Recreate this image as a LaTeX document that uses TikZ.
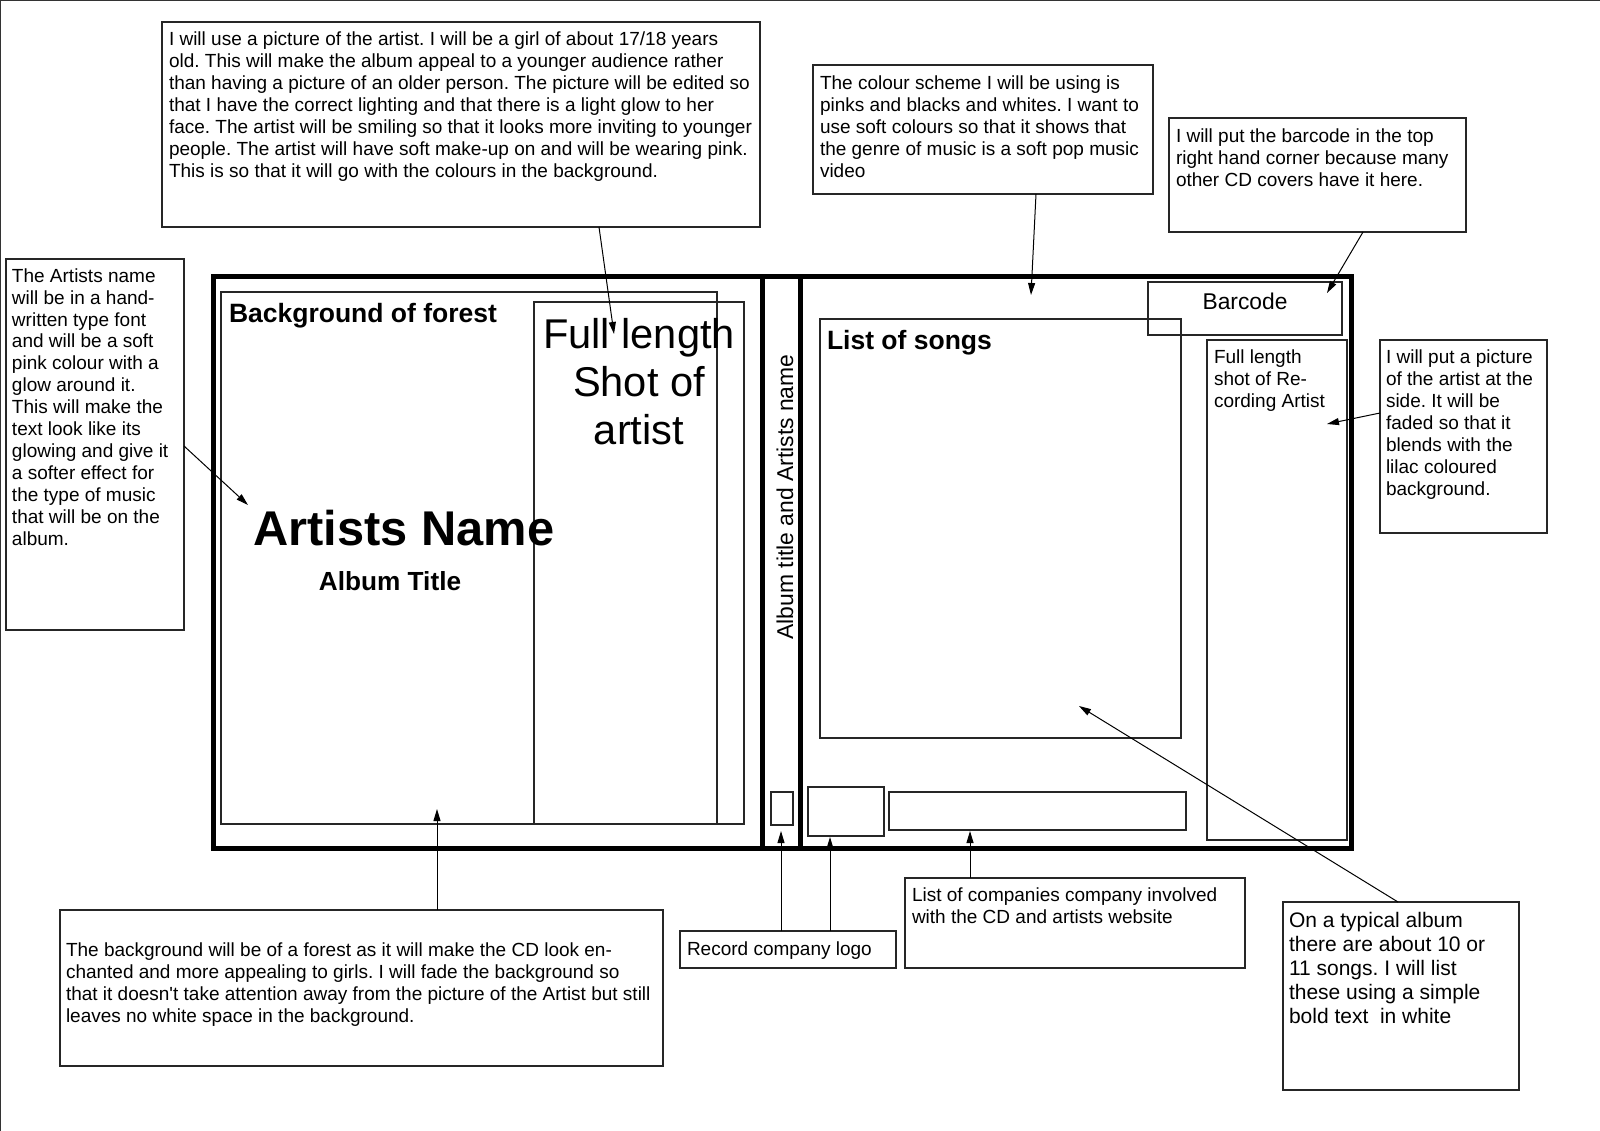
\documentclass[tikz,border=0pt]{standalone}
\usepackage{fontspec}
\setmainfont{Liberation Sans}
\usetikzlibrary{arrows.meta}
\newcommand\myfs[2]{\fontsize{#1}{#2}\selectfont}
\frenchspacing
\begin{document}
\begin{tikzpicture}[x=1pt,y=-1pt,
  notebox/.style={draw=black!85,line width=1.3pt,inner sep=0,outer sep=0,anchor=north west},
  thinrect/.style={draw=black!85,line width=1.5pt},
  thick frame/.style={draw=black,line width=5pt},
  txt/.style={inner sep=0,outer sep=0,anchor=north west,align=left,font={\myfs{19}{21.9}}},
  arr/.style={draw=black,line width=1pt,-{Triangle[length=12pt,width=7pt]}}]
\useasboundingbox (0,0) rectangle (1600,1131);
\fill[white] (0,0) rectangle (1600,1131);
\draw[line width=1.2pt,black!80] (0.6,1131) -- (0.6,0.6) -- (1600,0.6);

% ---- note boxes ----
\node[notebox,minimum width=598pt,minimum height=205pt] (topnote) at (162,22) {};
\node[notebox,minimum width=340pt,minimum height=129pt] (colnote) at (813,65) {};
\node[notebox,minimum width=297pt,minimum height=114pt] (barnote) at (1169,118) {};
\node[notebox,minimum width=178pt,minimum height=371pt] (artnote) at (6,259) {};
\node[notebox,minimum width=167pt,minimum height=193pt] (picnote) at (1380,340) {};
\node[notebox,minimum width=603pt,minimum height=156pt] (bgnote) at (60,910) {};
\node[notebox,minimum width=216pt,minimum height=37pt] (lognote) at (680,931) {};
\node[notebox,minimum width=340pt,minimum height=90pt] (comnote) at (905,878) {};
\node[notebox,minimum width=236pt,minimum height=188pt] (songnote) at (1283,902) {};

% ---- note texts ----
\node[txt] (t-top) at (169,32) {I will use a picture of the artist. I will be a girl of about 17/18 years\\
old. This will make the album appeal to a younger audience rather\\
than having a picture of an older person. The picture will be edited so\\
that I have the correct lighting and that there is a light glow to her\\
face. The artist will be smiling so that it looks more inviting to younger\\
people. The artist will have soft make-up on and will be wearing pink.\\
This is so that it will go with the colours in the background.};
\node[txt] (t-col) at (820,76) {The colour scheme I will be using is\\
pinks and blacks and whites. I want to\\
use soft colours so that it shows that\\
the genre of music is a soft pop music\\
video};
\node[txt] (t-bar) at (1176,129) {I will put the barcode in the top\\
right hand corner because many\\
other CD covers have it here.};
\node[txt] (t-art) at (12,268.5) {The Artists name\\
will be in a hand-\\
written type font\\
and will be a soft\\
pink colour with a\\
glow around it.\\
This will make the\\
text look like its\\
glowing and give it\\
a softer effect for\\
the type of music\\
that will be on the\\
album.};
\node[txt] (t-pic) at (1386,350) {I will put a picture\\
of the artist at the\\
side. It will be\\
faded so that it\\
blends with the\\
lilac coloured\\
background.};
\node[txt] (t-bg) at (66,943) {The background will be of a forest as it will make the CD look en-\\
chanted and more appealing to girls. I will fade the background so\\
that it doesn\textquotesingle t take attention away from the picture of the Artist but still\\
leaves no white space in the background.};
\node[txt] (t-log) at (687,942) {Record company logo};
\node[txt] (t-com) at (912,888) {List of companies company involved\\
with the CD and artists website};
\node[txt,font={\myfs{21}{24}}] (t-song) at (1289,912) {On a typical album\\
there are about 10 or\\
11 songs. I will list\\
these using a simple\\
bold text\ \ in white};

% ---- CD layout ----
\draw[thinrect] (221,292) rectangle (717,824);
\draw[thinrect] (534,302) rectangle (744,824);
\draw[thinrect] (771,792) rectangle (793,825);
\draw[thinrect] (820,319) rectangle (1181,738);
\draw[thinrect] (1148,282) rectangle (1342,335);
\draw[thinrect] (1207,340) rectangle (1347,840);
\draw[thinrect] (808,787) rectangle (884,836);
\draw[thinrect] (889,792) rectangle (1186,830);
\draw[thick frame] (213,277) rectangle (1351,848);
\draw[thick frame] (762,277) -- (762,848);
\draw[thick frame] (800,277) -- (800,848);

% ---- CD texts ----
\node[txt,font={\myfs{26.5}{30}\bfseries}] (bgtitle) at (229,303) {Background of forest};
\node[txt,font={\myfs{26.5}{30}\bfseries}] (songtitle) at (827,330) {List of songs};
\node[inner sep=0,font={\myfs{48.8}{55}\bfseries}] (artname) at (404,528) {Artists Name};
\node[inner sep=0,font={\myfs{26.2}{30}\bfseries}] (albtitle) at (390,581) {Album Title};
\node[inner sep=0,align=center,font={\myfs{41.6}{48}}] (fullshot) at (639,381.5) {Full length\\Shot of\\artist};
\node[inner sep=0,rotate=90,font={\myfs{22.9}{26}}] (spinetxt) at (785,497) {Album title and Artists name};
\node[inner sep=0,font={\myfs{22.8}{26}}] (barcode) at (1245,301) {Barcode};
\node[txt] (sidetxt) at (1214,350) {Full length\\shot of Re-\\cording Artist};

% ---- arrow targets ----
\coordinate (a1) at (614,334);
\coordinate (a2) at (1031,295);
\coordinate (a3) at (1327,293);
\coordinate (a4) at (248,505);
\coordinate (a5) at (1327,424);
\coordinate (a6) at (437,809);
\coordinate (a7) at (781,831);
\coordinate (a8) at (830,837);
\coordinate (a9) at (970,831);
\coordinate (a10) at (1079,706);

% ---- connectors ----
\draw[arr] ([xshift=138pt]topnote.south) -- (a1);
\draw[arr] ([xshift=53pt]colnote.south) -- (a2);
\draw[arr] ([xshift=45.5pt]barnote.south) -- (a3);
\draw[arr] ([yshift=-1.5pt]artnote.east) -- (a4);
\draw[arr] ([yshift=23.5pt]picnote.west) -- (a5);
\draw[arr] ([xshift=75.5pt]bgnote.north) -- (a6);
\draw[arr] ([xshift=-7pt]lognote.north) -- (a7);
\draw[arr] ([xshift=42pt]lognote.north) -- (a8);
\draw[arr] ([xshift=-105pt]comnote.north) -- (a9);
\draw[arr] ([xshift=-3pt]songnote.north) -- (a10);
\end{tikzpicture}
\end{document}
